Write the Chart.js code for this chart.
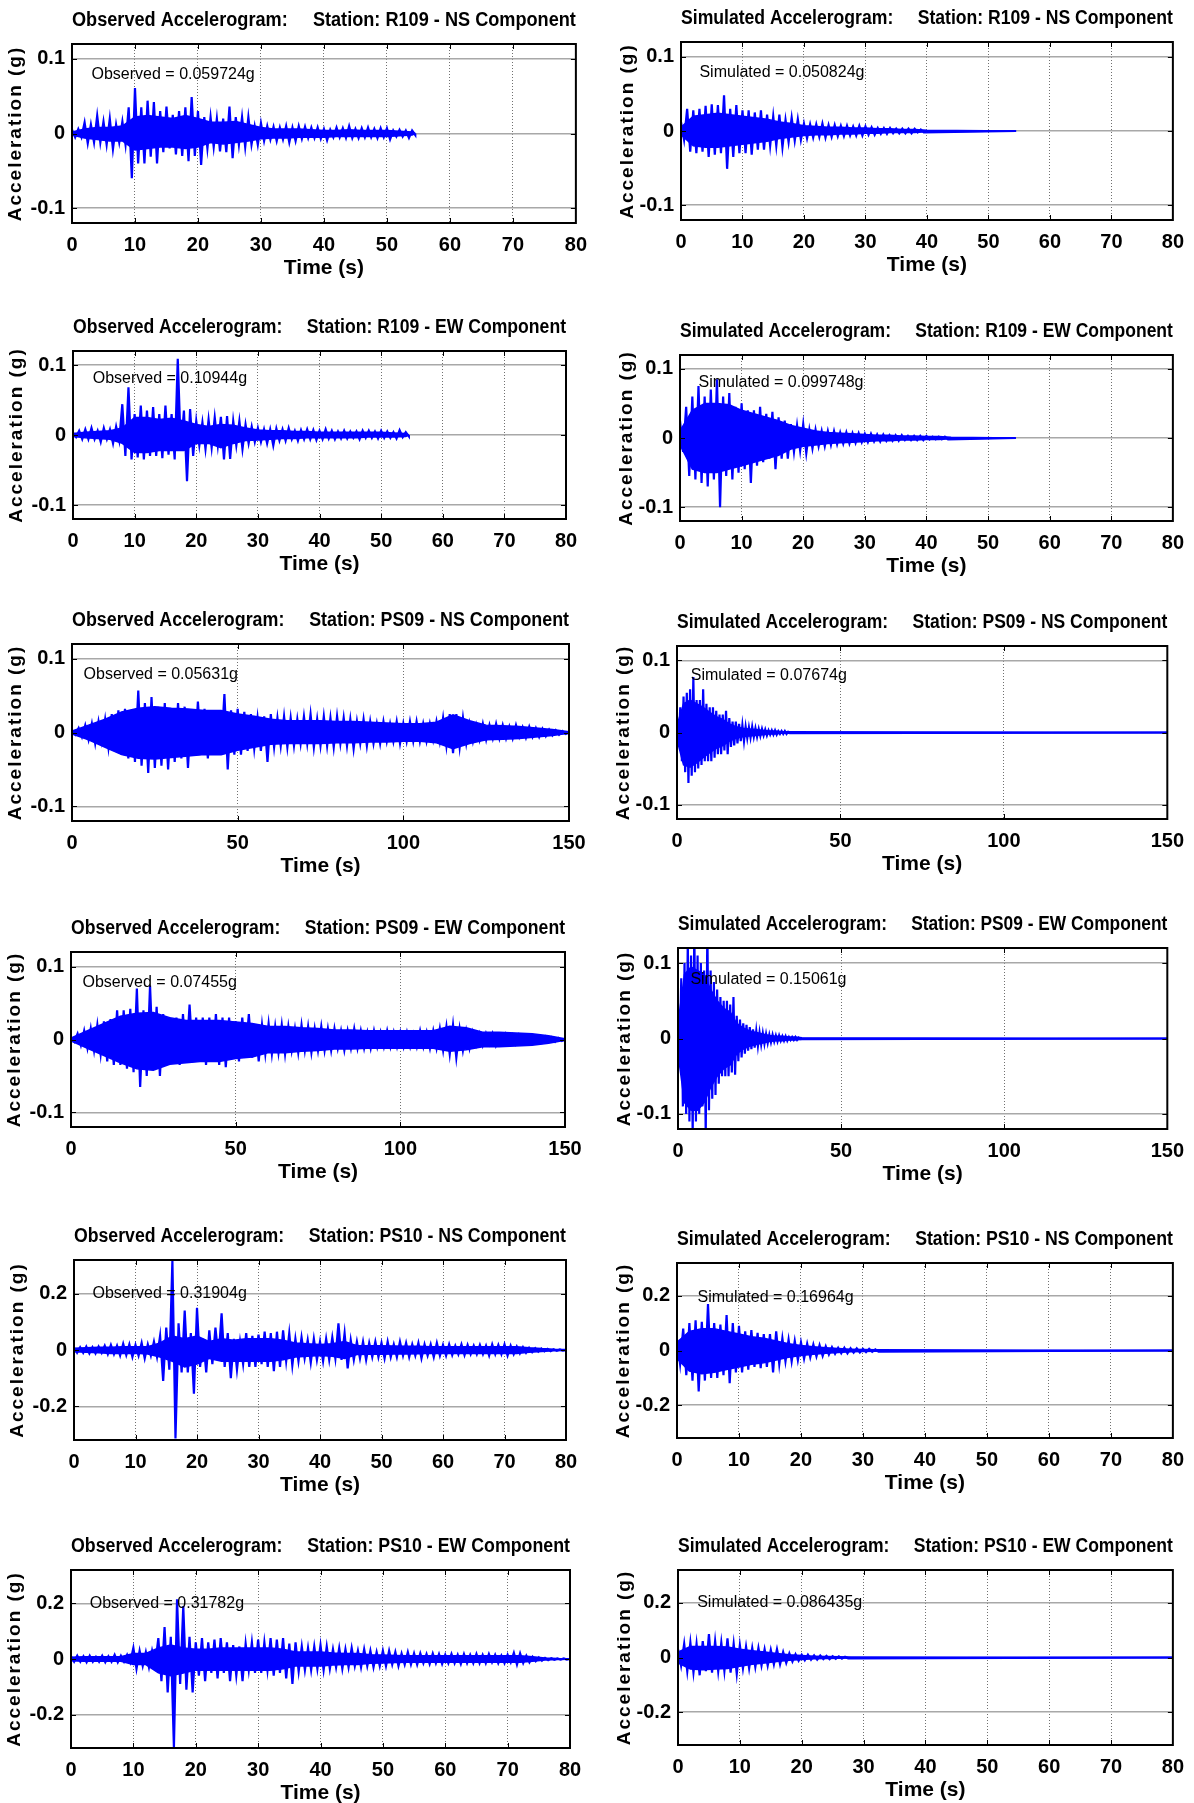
<!DOCTYPE html>
<html>
<head>
<meta charset="utf-8">
<script src="https://cdn.jsdelivr.net/npm/chart.js@4.4.1/dist/chart.umd.min.js"></script>
<style>
  body { margin: 0; background: #fff; width: 1194px; height: 1803px; position: relative; overflow: hidden; }
  canvas { position: absolute; }
</style>
</head>
<body>
<script>
// Values (g).
// *Pos / *Neg: highest and lowest spike in each time step.
// *BodyPos / *BodyNeg: extent of the solid blue band, on a coarser step.
const xTicks80 = [0, 10, 20, 30, 40, 50, 60, 70, 80];
const xTicks150 = [0, 50, 100, 150];
const yTicksSmall = [-0.1, 0, 0.1];
const yTicksLarge = [-0.2, 0, 0.2];

const r109Duration = 54.5;
const ps09Duration = 150;
const ps10Duration = 80;

// R109 - NS (spikes every 1 s, band every 2 s)
const r109NsObsPos = [0.005,0.006,0.015,0.012,0.024,0.016,0.020,0.012,0.016,0.035, 0.061,0.035,0.044,0.042,0.030,0.036,0.025,0.030,0.035,0.049, 0.030,0.022,0.022,0.020,0.020,0.036,0.022,0.022,0.022,0.010, 0.014,0.010,0.009,0.008,0.010,0.008,0.010,0.009,0.008,0.008, 0.006,0.005,0.008,0.007,0.010,0.006,0.007,0.008,0.006,0.007, 0.007,0.004,0.005,0.004,0.004];
const r109NsObsNeg = [-0.005,-0.005,-0.013,-0.012,-0.012,-0.015,-0.021,-0.012,-0.015,-0.060, -0.040,-0.040,-0.031,-0.040,-0.025,-0.020,-0.028,-0.030,-0.037,-0.030, -0.042,-0.020,-0.018,-0.024,-0.025,-0.033,-0.015,-0.018,-0.015,-0.015, -0.010,-0.008,-0.010,-0.008,-0.012,-0.010,-0.007,-0.006,-0.006,-0.007, -0.009,-0.005,-0.005,-0.006,-0.006,-0.006,-0.005,-0.005,-0.006,-0.005, -0.008,-0.004,-0.004,-0.006,-0.002];
const r109NsObsBodyPos = [0.002,0.006,0.008,0.008,0.010,0.022,0.024,0.022,0.020,0.024, 0.020,0.015,0.015,0.016,0.012,0.008,0.006,0.006,0.006,0.005, 0.004,0.004,0.005,0.004,0.004,0.004,0.003,0.002];
const r109NsObsBodyNeg = [-0.002,-0.006,-0.008,-0.010,-0.010,-0.022,-0.020,-0.018,-0.018,-0.020, -0.018,-0.012,-0.014,-0.012,-0.010,-0.007,-0.006,-0.006,-0.005,-0.005, -0.005,-0.004,-0.004,-0.004,-0.004,-0.004,-0.003,-0.002];
const r109NsSimPos = [0.012,0.030,0.028,0.030,0.034,0.036,0.035,0.048,0.030,0.035, 0.028,0.028,0.025,0.028,0.022,0.020,0.022,0.015,0.018,0.016, 0.010,0.009,0.009,0.010,0.008,0.008,0.007,0.007,0.006,0.007, 0.006,0.005,0.004,0.004,0.004,0.003,0.003,0.003,0.003,0.002];
const r109NsSimNeg = [-0.012,-0.028,-0.030,-0.028,-0.035,-0.032,-0.030,-0.051,-0.035,-0.030, -0.030,-0.032,-0.025,-0.025,-0.020,-0.020,-0.022,-0.015,-0.013,-0.012, -0.010,-0.009,-0.008,-0.009,-0.008,-0.007,-0.007,-0.006,-0.006,-0.006, -0.005,-0.005,-0.004,-0.004,-0.003,-0.003,-0.003,-0.003,-0.002,-0.002];
const r109NsSimBodyPos = [0.005,0.020,0.022,0.024,0.022,0.020,0.018,0.016,0.012,0.010, 0.007,0.006,0.005,0.005,0.004,0.004,0.003,0.003,0.002,0.002, 0.001];
const r109NsSimBodyNeg = [-0.005,-0.020,-0.022,-0.022,-0.020,-0.018,-0.016,-0.014,-0.010,-0.008, -0.006,-0.005,-0.005,-0.004,-0.004,-0.003,-0.003,-0.002,-0.002,-0.002, -0.001];

// R109 - EW (spikes every 1 s, band every 2 s)
const r109EwObsPos = [0.003,0.006,0.008,0.010,0.006,0.010,0.008,0.012,0.044,0.068, 0.030,0.042,0.035,0.040,0.030,0.042,0.030,0.109,0.035,0.037, 0.020,0.018,0.022,0.025,0.026,0.027,0.020,0.020,0.015,0.012, 0.010,0.008,0.008,0.009,0.008,0.010,0.006,0.007,0.008,0.007, 0.006,0.008,0.006,0.005,0.006,0.005,0.005,0.006,0.006,0.005, 0.006,0.005,0.004,0.007,0.004];
const r109EwObsNeg = [-0.003,-0.006,-0.006,-0.006,-0.010,-0.006,-0.012,-0.008,-0.030,-0.035, -0.032,-0.035,-0.030,-0.030,-0.033,-0.028,-0.035,-0.020,-0.066,-0.030, -0.015,-0.020,-0.018,-0.015,-0.035,-0.034,-0.015,-0.020,-0.012,-0.010, -0.010,-0.012,-0.015,-0.008,-0.008,-0.006,-0.008,-0.006,-0.006,-0.007, -0.006,-0.005,-0.006,-0.005,-0.005,-0.004,-0.006,-0.004,-0.004,-0.005, -0.004,-0.004,-0.005,-0.003,-0.002];
const r109EwObsBodyPos = [0.002,0.004,0.005,0.006,0.010,0.025,0.025,0.022,0.024,0.020, 0.015,0.012,0.015,0.014,0.010,0.007,0.006,0.006,0.005,0.005, 0.004,0.004,0.004,0.004,0.004,0.004,0.003,0.002];
const r109EwObsBodyNeg = [-0.002,-0.004,-0.005,-0.006,-0.012,-0.025,-0.025,-0.022,-0.022,-0.022, -0.012,-0.012,-0.018,-0.012,-0.008,-0.007,-0.006,-0.005,-0.005,-0.004, -0.004,-0.004,-0.004,-0.004,-0.003,-0.003,-0.003,-0.002];
const r109EwSimPos = [0.025,0.045,0.060,0.075,0.060,0.070,0.085,0.060,0.065,0.045, 0.050,0.040,0.040,0.045,0.035,0.038,0.030,0.025,0.020,0.018, 0.020,0.012,0.012,0.010,0.010,0.010,0.008,0.008,0.007,0.007, 0.006,0.006,0.005,0.005,0.004,0.004,0.004,0.003,0.003,0.003, 0.003,0.002,0.002,0.002];
const r109EwSimNeg = [-0.020,-0.055,-0.060,-0.065,-0.070,-0.060,-0.100,-0.055,-0.060,-0.050, -0.045,-0.065,-0.040,-0.035,-0.030,-0.045,-0.030,-0.030,-0.020,-0.018, -0.022,-0.015,-0.012,-0.012,-0.010,-0.009,-0.008,-0.008,-0.007,-0.006, -0.006,-0.005,-0.005,-0.004,-0.004,-0.004,-0.003,-0.003,-0.003,-0.003, -0.002,-0.002,-0.002,-0.002];
const r109EwSimBodyPos = [0.010,0.040,0.050,0.050,0.048,0.040,0.035,0.030,0.025,0.018, 0.014,0.010,0.008,0.007,0.006,0.005,0.004,0.004,0.003,0.003, 0.002,0.002,0.001];
const r109EwSimBodyNeg = [-0.010,-0.045,-0.050,-0.050,-0.045,-0.040,-0.035,-0.030,-0.025,-0.016, -0.012,-0.010,-0.008,-0.007,-0.006,-0.005,-0.004,-0.004,-0.003,-0.003, -0.002,-0.002,-0.001];

// PS09 - NS (observed: spikes every 2 s, band every 5 s; simulated: 1 s and 2 s)
const ps09NsObsPos = [0.003,0.006,0.010,0.012,0.015,0.018,0.025,0.030,0.032,0.028, 0.057,0.040,0.048,0.035,0.040,0.030,0.040,0.035,0.030,0.042, 0.032,0.025,0.030,0.052,0.030,0.032,0.028,0.025,0.020,0.022, 0.025,0.020,0.022,0.020,0.018,0.022,0.025,0.018,0.022,0.020, 0.022,0.020,0.018,0.015,0.018,0.015,0.012,0.015,0.012,0.015, 0.012,0.015,0.015,0.012,0.012,0.015,0.020,0.025,0.025,0.020, 0.012,0.010,0.012,0.010,0.012,0.010,0.008,0.010,0.007,0.008, 0.006,0.005,0.004,0.003,0.002];
const ps09NsObsNeg = [-0.003,-0.006,-0.010,-0.015,-0.012,-0.020,-0.025,-0.030,-0.035,-0.040, -0.045,-0.055,-0.048,-0.045,-0.050,-0.040,-0.035,-0.048,-0.030,-0.025, -0.035,-0.030,-0.025,-0.050,-0.030,-0.030,-0.025,-0.022,-0.025,-0.040, -0.020,-0.018,-0.020,-0.018,-0.015,-0.015,-0.020,-0.018,-0.018,-0.020, -0.015,-0.018,-0.022,-0.015,-0.018,-0.015,-0.015,-0.012,-0.012,-0.015, -0.012,-0.012,-0.012,-0.012,-0.010,-0.012,-0.018,-0.028,-0.020,-0.015, -0.012,-0.010,-0.010,-0.008,-0.008,-0.008,-0.008,-0.006,-0.007,-0.006, -0.006,-0.005,-0.004,-0.003,-0.002];
const ps09NsObsBodyPos = [0.002,0.010,0.018,0.028,0.033,0.035,0.033,0.032,0.030,0.030, 0.025,0.022,0.018,0.016,0.016,0.016,0.015,0.015,0.014,0.013, 0.012,0.012,0.014,0.024,0.016,0.010,0.009,0.008,0.006,0.004, 0.001];
const ps09NsObsBodyNeg = [-0.002,-0.010,-0.020,-0.030,-0.035,-0.036,-0.034,-0.032,-0.030,-0.030, -0.024,-0.020,-0.016,-0.015,-0.015,-0.015,-0.014,-0.014,-0.013,-0.013, -0.012,-0.012,-0.014,-0.022,-0.015,-0.010,-0.009,-0.008,-0.006,-0.004, -0.001];
const ps09NsSimPos = [0.015,0.035,0.050,0.055,0.060,0.077,0.045,0.045,0.060,0.040, 0.035,0.035,0.030,0.025,0.025,0.030,0.020,0.015,0.015,0.012, 0.010,0.008,0.007,0.008,0.006,0.005,0.005,0.004,0.003,0.003, 0.003,0.002,0.002,0.002,0.001];
const ps09NsSimNeg = [-0.015,-0.040,-0.055,-0.070,-0.060,-0.055,-0.050,-0.045,-0.040,-0.040, -0.040,-0.035,-0.030,-0.030,-0.025,-0.030,-0.020,-0.018,-0.015,-0.012, -0.012,-0.008,-0.007,-0.006,-0.006,-0.005,-0.004,-0.004,-0.003,-0.003, -0.003,-0.002,-0.002,-0.002,-0.001];
const ps09NsSimBodyPos = [0.010,0.040,0.045,0.040,0.035,0.028,0.022,0.018,0.012,0.008, 0.006,0.005,0.004,0.003,0.002,0.002,0.001,0.001];
const ps09NsSimBodyNeg = [-0.010,-0.045,-0.048,-0.042,-0.035,-0.028,-0.022,-0.018,-0.012,-0.008, -0.006,-0.005,-0.004,-0.003,-0.002,-0.002,-0.001,-0.001];

// PS09 - EW (observed: spikes every 2 s, band every 5 s; simulated: 1 s and 2 s)
const ps09EwObsPos = [0.003,0.008,0.012,0.015,0.020,0.025,0.028,0.040,0.040,0.042, 0.070,0.040,0.074,0.045,0.035,0.030,0.030,0.035,0.048,0.030, 0.030,0.030,0.035,0.030,0.030,0.025,0.030,0.035,0.020,0.020, 0.022,0.018,0.020,0.018,0.015,0.020,0.018,0.015,0.018,0.015, 0.015,0.012,0.012,0.015,0.012,0.010,0.012,0.010,0.012,0.010, 0.010,0.010,0.008,0.012,0.010,0.012,0.015,0.018,0.020,0.015, 0.012,0.010,0.008,0.008,0.008,0.006,0.007,0.006,0.006,0.005, 0.005,0.004,0.004,0.003,0.002];
const ps09EwObsNeg = [-0.003,-0.008,-0.012,-0.015,-0.020,-0.030,-0.035,-0.035,-0.040,-0.045, -0.065,-0.050,-0.040,-0.050,-0.035,-0.030,-0.035,-0.030,-0.025,-0.030, -0.035,-0.030,-0.035,-0.038,-0.025,-0.030,-0.020,-0.025,-0.030,-0.020, -0.020,-0.018,-0.020,-0.015,-0.018,-0.015,-0.018,-0.015,-0.015,-0.015, -0.012,-0.015,-0.012,-0.012,-0.012,-0.012,-0.010,-0.010,-0.010,-0.010, -0.010,-0.010,-0.010,-0.010,-0.012,-0.012,-0.015,-0.020,-0.025,-0.015, -0.012,-0.008,-0.008,-0.006,-0.008,-0.006,-0.006,-0.006,-0.005,-0.005, -0.004,-0.004,-0.003,-0.003,-0.002];
const ps09EwObsBodyPos = [0.002,0.012,0.022,0.032,0.036,0.037,0.030,0.026,0.026,0.026, 0.024,0.022,0.018,0.018,0.016,0.015,0.013,0.013,0.012,0.012, 0.012,0.012,0.012,0.018,0.016,0.010,0.010,0.009,0.008,0.005, 0.001];
const ps09EwObsBodyNeg = [-0.002,-0.012,-0.022,-0.032,-0.040,-0.042,-0.034,-0.032,-0.030,-0.030, -0.026,-0.024,-0.018,-0.018,-0.016,-0.015,-0.013,-0.013,-0.012,-0.012, -0.012,-0.012,-0.012,-0.016,-0.014,-0.010,-0.010,-0.009,-0.008,-0.005, -0.001];
const ps09EwSimPos = [0.030,0.080,0.100,0.130,0.110,0.150,0.110,0.100,0.090,0.150, 0.090,0.075,0.065,0.055,0.050,0.050,0.045,0.055,0.030,0.025, 0.020,0.018,0.015,0.012,0.010,0.008,0.007,0.006,0.005,0.005, 0.004,0.004,0.003,0.003,0.002,0.002,0.002,0.001];
const ps09EwSimNeg = [-0.030,-0.090,-0.100,-0.110,-0.130,-0.110,-0.100,-0.090,-0.130,-0.095, -0.080,-0.075,-0.060,-0.050,-0.050,-0.050,-0.045,-0.048,-0.030,-0.025, -0.020,-0.016,-0.014,-0.012,-0.010,-0.008,-0.007,-0.006,-0.005,-0.004, -0.004,-0.003,-0.003,-0.003,-0.002,-0.002,-0.002,-0.001];
const ps09EwSimBodyPos = [0.020,0.085,0.095,0.090,0.085,0.065,0.050,0.040,0.035,0.020, 0.014,0.010,0.008,0.006,0.004,0.003,0.003,0.002,0.002,0.001];
const ps09EwSimBodyNeg = [-0.020,-0.085,-0.095,-0.095,-0.085,-0.065,-0.050,-0.040,-0.035,-0.020, -0.014,-0.010,-0.008,-0.006,-0.004,-0.003,-0.003,-0.002,-0.002,-0.001];

// PS10 - NS (spikes every 1 s, band every 2 s)
const ps10NsObsPos = [0.008,0.010,0.012,0.010,0.012,0.015,0.018,0.015,0.022,0.020, 0.018,0.025,0.020,0.030,0.050,0.080,0.319,0.095,0.140,0.060, 0.150,0.040,0.070,0.080,0.130,0.060,0.040,0.030,0.060,0.050, 0.055,0.065,0.060,0.065,0.070,0.060,0.040,0.045,0.035,0.040, 0.030,0.040,0.045,0.095,0.060,0.035,0.030,0.030,0.025,0.030, 0.025,0.030,0.020,0.030,0.025,0.020,0.025,0.020,0.020,0.025, 0.018,0.020,0.015,0.020,0.018,0.015,0.018,0.015,0.020,0.018, 0.020,0.015,0.012,0.010,0.008,0.006,0.005,0.004,0.003,0.002];
const ps10NsObsNeg = [-0.010,-0.010,-0.012,-0.012,-0.010,-0.015,-0.015,-0.020,-0.018,-0.025, -0.020,-0.030,-0.020,-0.025,-0.110,-0.070,-0.315,-0.080,-0.080,-0.155, -0.060,-0.080,-0.050,-0.030,-0.060,-0.100,-0.070,-0.050,-0.060,-0.060, -0.050,-0.060,-0.075,-0.060,-0.040,-0.055,-0.040,-0.030,-0.045,-0.035, -0.040,-0.035,-0.030,-0.035,-0.065,-0.035,-0.030,-0.035,-0.025,-0.025, -0.030,-0.025,-0.025,-0.020,-0.025,-0.020,-0.030,-0.020,-0.025,-0.020, -0.020,-0.018,-0.015,-0.018,-0.015,-0.015,-0.015,-0.020,-0.015,-0.015, -0.020,-0.015,-0.012,-0.010,-0.008,-0.006,-0.005,-0.004,-0.003,-0.002];
const ps10NsObsBodyPos = [0.006,0.008,0.010,0.010,0.012,0.012,0.012,0.025,0.050,0.040, 0.050,0.030,0.040,0.035,0.040,0.040,0.040,0.035,0.025,0.022, 0.020,0.022,0.030,0.015,0.015,0.015,0.014,0.013,0.013,0.012, 0.012,0.012,0.012,0.012,0.012,0.012,0.012,0.008,0.005,0.003, 0.002];
const ps10NsObsBodyNeg = [-0.006,-0.008,-0.010,-0.012,-0.012,-0.012,-0.014,-0.025,-0.040,-0.060, -0.050,-0.030,-0.040,-0.040,-0.040,-0.040,-0.040,-0.035,-0.025,-0.022, -0.020,-0.022,-0.030,-0.016,-0.015,-0.015,-0.014,-0.014,-0.013,-0.012, -0.012,-0.012,-0.012,-0.012,-0.012,-0.012,-0.012,-0.008,-0.005,-0.003, -0.002];
const ps10NsSimPos = [0.040,0.080,0.100,0.110,0.105,0.170,0.100,0.095,0.130,0.100, 0.090,0.070,0.075,0.065,0.060,0.060,0.070,0.045,0.040,0.035, 0.030,0.025,0.022,0.020,0.015,0.012,0.010,0.010,0.008,0.008, 0.006,0.006,0.004];
const ps10NsSimNeg = [-0.050,-0.090,-0.110,-0.150,-0.110,-0.100,-0.100,-0.090,-0.120,-0.080, -0.080,-0.070,-0.060,-0.065,-0.060,-0.080,-0.050,-0.040,-0.040,-0.035, -0.030,-0.025,-0.022,-0.020,-0.015,-0.012,-0.010,-0.010,-0.008,-0.007, -0.006,-0.005,-0.004];
const ps10NsSimBodyPos = [0.030,0.070,0.080,0.080,0.070,0.060,0.050,0.045,0.035,0.025, 0.018,0.014,0.010,0.007,0.005,0.004,0.003];
const ps10NsSimBodyNeg = [-0.030,-0.075,-0.085,-0.080,-0.070,-0.060,-0.050,-0.045,-0.035,-0.025, -0.018,-0.014,-0.010,-0.007,-0.005,-0.004,-0.003];

// PS10 - EW (spikes every 1 s, band every 2 s)
const ps10EwObsPos = [0.010,0.012,0.010,0.012,0.008,0.012,0.010,0.015,0.012,0.015, 0.040,0.030,0.025,0.030,0.075,0.115,0.080,0.215,0.190,0.080, 0.060,0.075,0.060,0.070,0.075,0.060,0.050,0.045,0.055,0.060, 0.070,0.060,0.075,0.070,0.075,0.055,0.060,0.045,0.040,0.045, 0.050,0.045,0.035,0.040,0.035,0.040,0.030,0.035,0.030,0.025, 0.030,0.030,0.025,0.020,0.025,0.020,0.020,0.018,0.020,0.018, 0.015,0.018,0.015,0.018,0.015,0.018,0.015,0.018,0.015,0.012, 0.015,0.022,0.020,0.012,0.008,0.006,0.004,0.003,0.002,0.002];
const ps10EwObsNeg = [-0.010,-0.010,-0.012,-0.010,-0.010,-0.012,-0.010,-0.012,-0.010,-0.012, -0.035,-0.025,-0.030,-0.020,-0.080,-0.120,-0.318,-0.090,-0.110,-0.120, -0.060,-0.080,-0.050,-0.070,-0.050,-0.080,-0.060,-0.080,-0.040,-0.050, -0.050,-0.040,-0.060,-0.050,-0.070,-0.090,-0.045,-0.040,-0.040,-0.035, -0.040,-0.035,-0.030,-0.035,-0.030,-0.025,-0.030,-0.025,-0.030,-0.025, -0.025,-0.020,-0.025,-0.020,-0.020,-0.020,-0.015,-0.018,-0.015,-0.018, -0.015,-0.015,-0.018,-0.015,-0.015,-0.015,-0.015,-0.012,-0.015,-0.015, -0.012,-0.020,-0.015,-0.012,-0.008,-0.006,-0.004,-0.003,-0.002,-0.002];
const ps10EwObsBodyPos = [0.006,0.008,0.008,0.008,0.008,0.020,0.020,0.040,0.050,0.040, 0.035,0.035,0.040,0.040,0.040,0.040,0.040,0.035,0.025,0.025, 0.025,0.022,0.020,0.020,0.015,0.014,0.013,0.012,0.012,0.012, 0.012,0.012,0.012,0.012,0.012,0.012,0.012,0.008,0.004,0.002, 0.001];
const ps10EwObsBodyNeg = [-0.006,-0.008,-0.008,-0.008,-0.008,-0.020,-0.020,-0.050,-0.060,-0.050, -0.040,-0.040,-0.040,-0.040,-0.040,-0.040,-0.040,-0.035,-0.025,-0.025, -0.025,-0.022,-0.020,-0.020,-0.015,-0.014,-0.013,-0.012,-0.012,-0.012, -0.012,-0.012,-0.012,-0.012,-0.012,-0.012,-0.012,-0.008,-0.004,-0.002, -0.001];
const ps10EwSimPos = [0.030,0.050,0.055,0.050,0.060,0.086,0.060,0.055,0.070,0.050, 0.045,0.040,0.035,0.035,0.030,0.028,0.030,0.020,0.015,0.012, 0.010,0.010,0.008,0.007,0.006,0.005,0.004,0.003];
const ps10EwSimNeg = [-0.030,-0.050,-0.055,-0.065,-0.050,-0.055,-0.050,-0.050,-0.055,-0.060, -0.040,-0.040,-0.035,-0.030,-0.030,-0.025,-0.025,-0.020,-0.015,-0.012, -0.010,-0.008,-0.008,-0.006,-0.006,-0.005,-0.004,-0.003];
const ps10EwSimBodyPos = [0.020,0.040,0.040,0.040,0.038,0.030,0.025,0.020,0.015,0.010, 0.007,0.005,0.004,0.003,0.002];
const ps10EwSimBodyNeg = [-0.020,-0.042,-0.045,-0.042,-0.040,-0.032,-0.025,-0.020,-0.015,-0.010, -0.007,-0.005,-0.004,-0.003,-0.002];

const W = 597;
const narrow = '"Liberation Sans Narrow", "Arial Narrow", "Liberation Sans", Arial, sans-serif';
const wide = '"Liberation Sans", Arial, sans-serif';

// box = plot area [left, top, right, bottom] on the page
const panels = [
  { title: 'Observed Accelerogram:     Station: R109 - NS Component', note: 'Observed = 0.059724g',
    pos: r109NsObsPos, neg: r109NsObsNeg, dt: 1, bodyPos: r109NsObsBodyPos, bodyNeg: r109NsObsBodyNeg, bdt: 2,
    dur: r109Duration, xTicks: xTicks80, yMax: 0.12, yTicks: yTicksSmall,
    noteAt: [3.1, 0.079], box: [72, 44, 576, 223], col: 0 },
  { title: 'Simulated Accelerogram:     Station: R109 - NS Component', note: 'Simulated = 0.050824g',
    pos: r109NsSimPos, neg: r109NsSimNeg, dt: 1, bodyPos: r109NsSimBodyPos, bodyNeg: r109NsSimBodyNeg, bdt: 2,
    dur: r109Duration, xTicks: xTicks80, yMax: 0.12, yTicks: yTicksSmall,
    noteAt: [3.0, 0.079], box: [681, 42, 1173, 220], col: 1 },
  { title: 'Observed Accelerogram:     Station: R109 - EW Component', note: 'Observed = 0.10944g',
    pos: r109EwObsPos, neg: r109EwObsNeg, dt: 1, bodyPos: r109EwObsBodyPos, bodyNeg: r109EwObsBodyNeg, bdt: 2,
    dur: r109Duration, xTicks: xTicks80, yMax: 0.12, yTicks: yTicksSmall,
    noteAt: [3.2, 0.08], box: [73, 351, 566, 519], col: 0 },
  { title: 'Simulated Accelerogram:     Station: R109 - EW Component', note: 'Simulated = 0.099748g',
    pos: r109EwSimPos, neg: r109EwSimNeg, dt: 1, bodyPos: r109EwSimBodyPos, bodyNeg: r109EwSimBodyNeg, bdt: 2,
    dur: r109Duration, xTicks: xTicks80, yMax: 0.12, yTicks: yTicksSmall,
    noteAt: [3.0, 0.08], box: [680, 355, 1174, 521], col: 1 },
  { title: 'Observed Accelerogram:     Station: PS09 - NS Component', note: 'Observed = 0.05631g',
    pos: ps09NsObsPos, neg: ps09NsObsNeg, dt: 2, bodyPos: ps09NsObsBodyPos, bodyNeg: ps09NsObsBodyNeg, bdt: 5,
    dur: ps09Duration, xTicks: xTicks150, yMax: 0.12, yTicks: yTicksSmall,
    noteAt: [3.5, 0.079], box: [72, 644, 569, 821], col: 0 },
  { title: 'Simulated Accelerogram:     Station: PS09 - NS Component', note: 'Simulated = 0.07674g',
    pos: ps09NsSimPos, neg: ps09NsSimNeg, dt: 1, bodyPos: ps09NsSimBodyPos, bodyNeg: ps09NsSimBodyNeg, bdt: 2,
    dur: ps09Duration, xTicks: xTicks150, yMax: 0.12, yTicks: yTicksSmall,
    noteAt: [4.2, 0.079], box: [677, 646, 1173, 819], col: 1 },
  { title: 'Observed Accelerogram:     Station: PS09 - EW Component', note: 'Observed = 0.07455g',
    pos: ps09EwObsPos, neg: ps09EwObsNeg, dt: 2, bodyPos: ps09EwObsBodyPos, bodyNeg: ps09EwObsBodyNeg, bdt: 5,
    dur: ps09Duration, xTicks: xTicks150, yMax: 0.12, yTicks: yTicksSmall,
    noteAt: [3.5, 0.078], box: [71, 952, 565, 1127], col: 0 },
  { title: 'Simulated Accelerogram:     Station: PS09 - EW Component', note: 'Simulated = 0.15061g',
    pos: ps09EwSimPos, neg: ps09EwSimNeg, dt: 1, bodyPos: ps09EwSimBodyPos, bodyNeg: ps09EwSimBodyNeg, bdt: 2,
    dur: ps09Duration, xTicks: xTicks150, yMax: 0.12, yTicks: yTicksSmall,
    noteAt: [3.8, 0.078], box: [678, 948, 1172, 1129], col: 1 },
  { title: 'Observed Accelerogram:     Station: PS10 - NS Component', note: 'Observed = 0.31904g',
    pos: ps10NsObsPos, neg: ps10NsObsNeg, dt: 1, bodyPos: ps10NsObsBodyPos, bodyNeg: ps10NsObsBodyNeg, bdt: 2,
    dur: ps10Duration, xTicks: xTicks80, yMax: 0.32, yTicks: yTicksLarge,
    noteAt: [3.0, 0.2], box: [74, 1260, 566, 1440], col: 0 },
  { title: 'Simulated Accelerogram:     Station: PS10 - NS Component', note: 'Simulated = 0.16964g',
    pos: ps10NsSimPos, neg: ps10NsSimNeg, dt: 1, bodyPos: ps10NsSimBodyPos, bodyNeg: ps10NsSimBodyNeg, bdt: 2,
    dur: ps10Duration, xTicks: xTicks80, yMax: 0.32, yTicks: yTicksLarge,
    noteAt: [3.3, 0.195], box: [677, 1263, 1177, 1438], col: 1 },
  { title: 'Observed Accelerogram:     Station: PS10 - EW Component', note: 'Observed = 0.31782g',
    pos: ps10EwObsPos, neg: ps10EwObsNeg, dt: 1, bodyPos: ps10EwObsBodyPos, bodyNeg: ps10EwObsBodyNeg, bdt: 2,
    dur: ps10Duration, xTicks: xTicks80, yMax: 0.32, yTicks: yTicksLarge,
    noteAt: [3.0, 0.2], box: [71, 1570, 570, 1748], col: 0 },
  { title: 'Simulated Accelerogram:     Station: PS10 - EW Component', note: 'Simulated = 0.086435g',
    pos: ps10EwSimPos, neg: ps10EwSimNeg, dt: 1, bodyPos: ps10EwSimBodyPos, bodyNeg: ps10EwSimBodyNeg, bdt: 2,
    dur: ps10Duration, xTicks: xTicks80, yMax: 0.32, yTicks: yTicksLarge,
    noteAt: [3.1, 0.2], box: [678, 1570, 1175, 1745], col: 1 }
];

// zigzag between the positive and negative spike of each step
function tracePoints(p) {
  const pts = [];
  p.pos.forEach((v, i) => {
    pts.push({ x: i * p.dt, y: v });
    pts.push({ x: i * p.dt + p.dt / 2, y: p.neg[i] });
  });
  pts.push({ x: p.dur, y: 0 });
  return pts;
}

// one edge of the solid band
function bandPoints(values, p) {
  const pts = values.map((v, i) => ({ x: i * p.bdt, y: v }));
  pts.push({ x: p.dur, y: 0 });
  return pts;
}

// axes box, inner ticks, peak note and spaced y label like the MATLAB figure
const deco = {
  id: 'deco',
  afterDraw(chart) {
    const p = chart.options.plugins.deco.panel;
    const ctx = chart.ctx;
    const a = chart.chartArea;
    const xs = chart.scales.x, ys = chart.scales.y;
    ctx.save();
    ctx.strokeStyle = '#000';
    ctx.lineWidth = 1;
    ctx.beginPath();
    p.xTicks.slice(1, -1).forEach(v => {
      const px = Math.round(xs.getPixelForValue(v)) + 0.5;
      ctx.moveTo(px, a.top); ctx.lineTo(px, a.top + 5);
      ctx.moveTo(px, a.bottom); ctx.lineTo(px, a.bottom - 5);
    });
    p.yTicks.forEach(v => {
      const py = Math.round(ys.getPixelForValue(v)) + 0.5;
      ctx.moveTo(a.left, py); ctx.lineTo(a.left + 5, py);
      ctx.moveTo(a.right, py); ctx.lineTo(a.right - 5, py);
    });
    ctx.stroke();
    ctx.lineWidth = 2;
    ctx.strokeRect(a.left, a.top, a.right - a.left, a.bottom - a.top);

    ctx.fillStyle = '#000';
    ctx.font = '16px ' + narrow;
    ctx.textAlign = 'left';
    ctx.textBaseline = 'middle';
    ctx.fillText(p.note, xs.getPixelForValue(p.noteAt[0]), ys.getPixelForValue(p.noteAt[1]));

    ctx.font = 'bold 19px ' + wide;
    ctx.letterSpacing = '2px';
    ctx.textAlign = 'center';
    ctx.translate(a.left - (p.col ? 53 : 56), (a.top + a.bottom) / 2);
    ctx.rotate(-Math.PI / 2);
    ctx.fillText('Acceleration (g)', 0, 0);
    ctx.letterSpacing = '0px';
    ctx.restore();
  }
};

const blue = '#0000ff';

panels.forEach(p => {
  const [L, T, R, B] = p.box;
  const x0 = p.col * W;
  const top = T - 40;
  const h = B - top + 62;
  const cv = document.createElement('canvas');
  cv.width = W;
  cv.height = h;
  cv.style.left = x0 + 'px';
  cv.style.top = top + 'px';
  cv.style.width = W + 'px';
  cv.style.height = h + 'px';
  document.body.appendChild(cv);

  new Chart(cv, {
    type: 'line',
    data: {
      datasets: [
        { data: bandPoints(p.bodyPos, p), borderColor: blue, backgroundColor: blue, borderWidth: 1.5,
          pointRadius: 0, tension: 0, fill: '+1' },
        { data: bandPoints(p.bodyNeg, p), borderColor: blue, backgroundColor: blue, borderWidth: 1.5,
          pointRadius: 0, tension: 0, fill: false },
        { data: tracePoints(p), borderColor: blue, backgroundColor: blue, borderWidth: 2.2,
          borderJoinStyle: 'miter', pointRadius: 0, tension: 0, fill: 'origin' }
      ]
    },
    options: {
      animation: false,
      responsive: false,
      devicePixelRatio: 1,
      layout: { autoPadding: false, padding: { left: 0, top: 0, bottom: 0, right: x0 + W - R } },
      plugins: {
        legend: { display: false },
        tooltip: { enabled: false },
        title: {
          display: true,
          text: p.title,
          fullSize: false,
          color: '#000',
          font: { family: narrow, size: 20, weight: 'bold', lineHeight: 1.2 },
          padding: { top: 4, bottom: 12 }
        },
        deco: { panel: p }
      },
      scales: {
        x: {
          type: 'linear',
          min: 0,
          max: p.xTicks[p.xTicks.length - 1],
          afterFit: s => { s.height = 62; },
          afterBuildTicks: s => { s.ticks = p.xTicks.map(v => ({ value: v })); },
          grid: { color: '#707070', lineWidth: 1, drawTicks: false },
          border: { display: false, dash: [1, 2] },
          ticks: { color: '#000', padding: 10, maxRotation: 0, font: { family: narrow, size: 20, weight: 'bold' },
                   callback: v => String(v) },
          title: { display: true, text: 'Time (s)', color: '#000', padding: { top: 0, bottom: 4 },
                   font: { family: narrow, size: 21, weight: 'bold', lineHeight: 1.2 } }
        },
        y: {
          min: -p.yMax,
          max: p.yMax,
          afterFit: s => { s.width = L - x0; },
          afterBuildTicks: s => { s.ticks = p.yTicks.map(v => ({ value: v })); },
          grid: { color: '#a8a8a8', lineWidth: 1.5, drawTicks: false },
          border: { display: false },
          ticks: { color: '#000', padding: 7, font: { family: narrow, size: 20, weight: 'bold' },
                   callback: v => String(v) }
        }
      }
    },
    plugins: [deco]
  });
});
</script>
</body>
</html>
